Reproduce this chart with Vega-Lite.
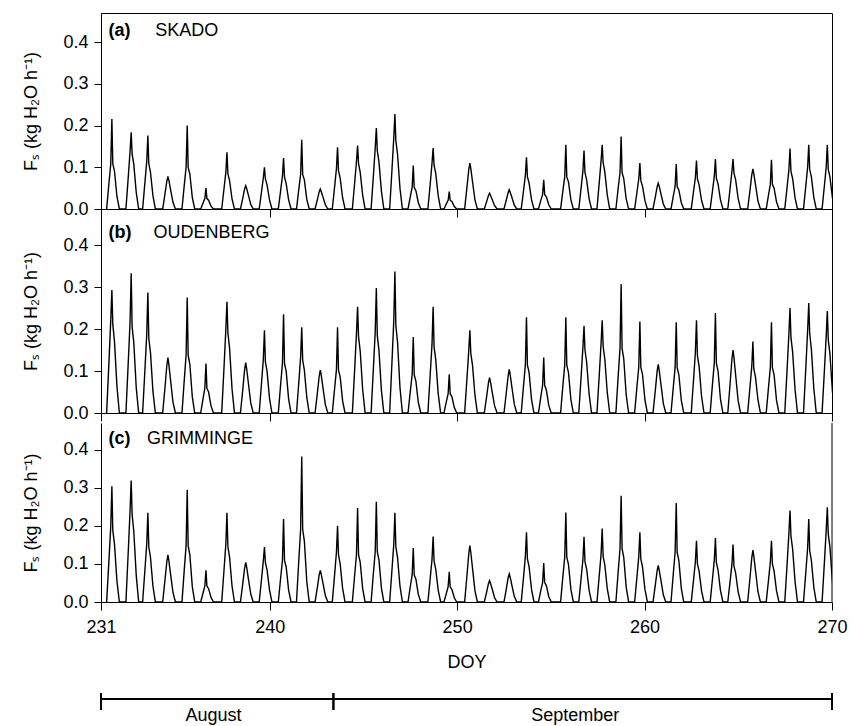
{
"$schema": "https://vega.github.io/schema/vega-lite/v6.json",
"padding": {"left": 22, "top": 12, "right": 5, "bottom": 0},
"autosize": {"type": "pad"},
"background": "white",
"bounds": "flush",
"spacing": 0,
"config": {
  "font": "Liberation Sans",
  "view": {"stroke": "black", "strokeWidth": 1},
  "axis": {"grid": false, "domainColor": "black", "tickColor": "black", "labelColor": "black", "titleColor": "black", "labelFont": "Liberation Sans", "titleFont": "Liberation Sans", "labelFontSize": 18, "titleFontSize": 18, "titleFontWeight": "normal", "tickSize": 7, "labelPadding": 6, "titlePadding": 22, "labelFlush": false, "domainWidth": 1, "tickWidth": 1},
  "text": {"font": "Liberation Sans"}
},
"datasets": {"fs": [
{"t":231.30,"a":0,"b":0,"c":0},{"t":231.42,"a":0.060,"b":0.117,"c":0.106},{"t":231.52,"a":0.108,"b":0.220,"c":0.198},{"t":231.58,"a":0.216,"b":0.293,"c":0.304},{"t":231.63,"a":0.108,"b":0.211,"c":0.188},{"t":231.72,"a":0.091,"b":0.170,"c":0.152},{"t":231.85,"a":0.030,"b":0.064,"c":0.055},{"t":231.98,"a":0,"b":0,"c":0},
{"t":232.33,"a":0,"b":0,"c":0},{"t":232.45,"a":0.074,"b":0.117,"c":0.128},{"t":232.55,"a":0.138,"b":0.216,"c":0.239},{"t":232.61,"a":0.184,"b":0.333,"c":0.319},{"t":232.66,"a":0.132,"b":0.206,"c":0.230},{"t":232.75,"a":0.107,"b":0.167,"c":0.185},{"t":232.88,"a":0.040,"b":0.060,"c":0.070},{"t":233.01,"a":0,"b":0,"c":0},
{"t":233.22,"a":0,"b":0,"c":0},{"t":233.34,"a":0.062,"b":0.100,"c":0.082},{"t":233.44,"a":0.114,"b":0.187,"c":0.152},{"t":233.50,"a":0.176,"b":0.287,"c":0.234},{"t":233.55,"a":0.109,"b":0.178,"c":0.145},{"t":233.64,"a":0.088,"b":0.144,"c":0.117},{"t":233.77,"a":0.032,"b":0.052,"c":0.042},{"t":233.90,"a":0,"b":0,"c":0},
{"t":234.29,"a":0,"b":0,"c":0},{"t":234.41,"a":0.035,"b":0.059,"c":0.056},{"t":234.51,"a":0.066,"b":0.112,"c":0.105},{"t":234.57,"a":0.078,"b":0.132,"c":0.124},{"t":234.62,"a":0.069,"b":0.116,"c":0.109},{"t":234.71,"a":0.047,"b":0.079,"c":0.074},{"t":234.84,"a":0.016,"b":0.026,"c":0.025},{"t":234.97,"a":0,"b":0,"c":0},
{"t":235.32,"a":0,"b":0,"c":0},{"t":235.44,"a":0.056,"b":0.077,"c":0.083},{"t":235.54,"a":0.100,"b":0.138,"c":0.148},{"t":235.60,"a":0.200,"b":0.275,"c":0.295},{"t":235.65,"a":0.100,"b":0.138,"c":0.148},{"t":235.74,"a":0.084,"b":0.116,"c":0.124},{"t":235.87,"a":0.028,"b":0.039,"c":0.041},{"t":236.00,"a":0,"b":0,"c":0},
{"t":236.32,"a":0,"b":0,"c":0},{"t":236.44,"a":0.014,"b":0.033,"c":0.023},{"t":236.54,"a":0.025,"b":0.059,"c":0.042},{"t":236.60,"a":0.050,"b":0.118,"c":0.083},{"t":236.65,"a":0.025,"b":0.059,"c":0.042},{"t":236.74,"a":0.021,"b":0.050,"c":0.035},{"t":236.87,"a":0.007,"b":0.017,"c":0.012},{"t":237.00,"a":0,"b":0,"c":0},
{"t":237.44,"a":0,"b":0,"c":0},{"t":237.56,"a":0.048,"b":0.106,"c":0.082},{"t":237.66,"a":0.088,"b":0.199,"c":0.152},{"t":237.72,"a":0.136,"b":0.265,"c":0.234},{"t":237.77,"a":0.084,"b":0.191,"c":0.145},{"t":237.86,"a":0.068,"b":0.154,"c":0.117},{"t":237.99,"a":0.024,"b":0.058,"c":0.042},{"t":238.12,"a":0,"b":0,"c":0},
{"t":238.44,"a":0,"b":0,"c":0},{"t":238.56,"a":0.025,"b":0.054,"c":0.047},{"t":238.66,"a":0.048,"b":0.102,"c":0.088},{"t":238.72,"a":0.056,"b":0.120,"c":0.104},{"t":238.77,"a":0.049,"b":0.106,"c":0.092},{"t":238.86,"a":0.034,"b":0.072,"c":0.062},{"t":238.99,"a":0.011,"b":0.024,"c":0.021},{"t":239.12,"a":0,"b":0,"c":0},
{"t":239.44,"a":0,"b":0,"c":0},{"t":239.56,"a":0.040,"b":0.069,"c":0.058},{"t":239.66,"a":0.075,"b":0.128,"c":0.108},{"t":239.72,"a":0.100,"b":0.197,"c":0.144},{"t":239.77,"a":0.072,"b":0.122,"c":0.104},{"t":239.86,"a":0.058,"b":0.099,"c":0.084},{"t":239.99,"a":0.022,"b":0.035,"c":0.032},{"t":240.12,"a":0,"b":0,"c":0},
{"t":240.46,"a":0,"b":0,"c":0},{"t":240.58,"a":0.043,"b":0.066,"c":0.061},{"t":240.68,"a":0.079,"b":0.118,"c":0.109},{"t":240.74,"a":0.122,"b":0.235,"c":0.218},{"t":240.79,"a":0.076,"b":0.118,"c":0.109},{"t":240.88,"a":0.061,"b":0.099,"c":0.092},{"t":241.01,"a":0.022,"b":0.033,"c":0.031},{"t":241.14,"a":0,"b":0,"c":0},
{"t":241.43,"a":0,"b":0,"c":0},{"t":241.55,"a":0.046,"b":0.071,"c":0.107},{"t":241.65,"a":0.083,"b":0.133,"c":0.191},{"t":241.71,"a":0.166,"b":0.204,"c":0.382},{"t":241.76,"a":0.083,"b":0.126,"c":0.191},{"t":241.85,"a":0.070,"b":0.102,"c":0.160},{"t":241.98,"a":0.023,"b":0.037,"c":0.053},{"t":242.11,"a":0,"b":0,"c":0},
{"t":242.42,"a":0,"b":0,"c":0},{"t":242.54,"a":0.022,"b":0.046,"c":0.037},{"t":242.64,"a":0.041,"b":0.087,"c":0.071},{"t":242.70,"a":0.048,"b":0.102,"c":0.083},{"t":242.75,"a":0.042,"b":0.090,"c":0.073},{"t":242.84,"a":0.029,"b":0.061,"c":0.050},{"t":242.97,"a":0.010,"b":0.020,"c":0.017},{"t":243.10,"a":0,"b":0,"c":0},
{"t":243.34,"a":0,"b":0,"c":0},{"t":243.46,"a":0.052,"b":0.057,"c":0.070},{"t":243.56,"a":0.096,"b":0.102,"c":0.130},{"t":243.62,"a":0.148,"b":0.204,"c":0.200},{"t":243.67,"a":0.092,"b":0.102,"c":0.124},{"t":243.76,"a":0.074,"b":0.086,"c":0.100},{"t":243.89,"a":0.027,"b":0.029,"c":0.036},{"t":244.02,"a":0,"b":0,"c":0},
{"t":244.41,"a":0,"b":0,"c":0},{"t":244.53,"a":0.061,"b":0.101,"c":0.069},{"t":244.63,"a":0.114,"b":0.190,"c":0.124},{"t":244.69,"a":0.152,"b":0.253,"c":0.247},{"t":244.74,"a":0.109,"b":0.182,"c":0.124},{"t":244.83,"a":0.088,"b":0.147,"c":0.104},{"t":244.96,"a":0.033,"b":0.056,"c":0.035},{"t":245.09,"a":0,"b":0,"c":0},
{"t":245.41,"a":0,"b":0,"c":0},{"t":245.53,"a":0.078,"b":0.104,"c":0.074},{"t":245.63,"a":0.146,"b":0.194,"c":0.132},{"t":245.69,"a":0.194,"b":0.298,"c":0.263},{"t":245.74,"a":0.140,"b":0.185,"c":0.132},{"t":245.83,"a":0.113,"b":0.149,"c":0.110},{"t":245.96,"a":0.043,"b":0.054,"c":0.037},{"t":246.09,"a":0,"b":0,"c":0},
{"t":246.40,"a":0,"b":0,"c":0},{"t":246.52,"a":0.091,"b":0.118,"c":0.082},{"t":246.62,"a":0.171,"b":0.219,"c":0.152},{"t":246.68,"a":0.228,"b":0.337,"c":0.234},{"t":246.73,"a":0.164,"b":0.209,"c":0.145},{"t":246.82,"a":0.132,"b":0.169,"c":0.117},{"t":246.95,"a":0.050,"b":0.061,"c":0.042},{"t":247.08,"a":0,"b":0,"c":0},
{"t":247.38,"a":0,"b":0,"c":0},{"t":247.50,"a":0.029,"b":0.051,"c":0.040},{"t":247.60,"a":0.052,"b":0.091,"c":0.071},{"t":247.66,"a":0.104,"b":0.181,"c":0.142},{"t":247.71,"a":0.052,"b":0.091,"c":0.071},{"t":247.80,"a":0.044,"b":0.076,"c":0.060},{"t":247.93,"a":0.015,"b":0.025,"c":0.020},{"t":248.06,"a":0,"b":0,"c":0},
{"t":248.44,"a":0,"b":0,"c":0},{"t":248.56,"a":0.058,"b":0.089,"c":0.060},{"t":248.66,"a":0.110,"b":0.164,"c":0.112},{"t":248.72,"a":0.146,"b":0.253,"c":0.172},{"t":248.77,"a":0.105,"b":0.157,"c":0.107},{"t":248.86,"a":0.085,"b":0.127,"c":0.086},{"t":248.99,"a":0.032,"b":0.046,"c":0.031},{"t":249.12,"a":0,"b":0,"c":0},
{"t":249.30,"a":0,"b":0,"c":0},{"t":249.42,"a":0.012,"b":0.026,"c":0.022},{"t":249.52,"a":0.021,"b":0.046,"c":0.040},{"t":249.58,"a":0.042,"b":0.092,"c":0.079},{"t":249.63,"a":0.021,"b":0.046,"c":0.040},{"t":249.72,"a":0.018,"b":0.039,"c":0.033},{"t":249.85,"a":0.006,"b":0.013,"c":0.011},{"t":249.98,"a":0,"b":0,"c":0},
{"t":250.40,"a":0,"b":0,"c":0},{"t":250.52,"a":0.050,"b":0.079,"c":0.067},{"t":250.62,"a":0.094,"b":0.148,"c":0.126},{"t":250.68,"a":0.110,"b":0.197,"c":0.148},{"t":250.73,"a":0.097,"b":0.142,"c":0.130},{"t":250.82,"a":0.066,"b":0.114,"c":0.089},{"t":250.95,"a":0.022,"b":0.043,"c":0.030},{"t":251.08,"a":0,"b":0,"c":0},
{"t":251.45,"a":0,"b":0,"c":0},{"t":251.57,"a":0.017,"b":0.038,"c":0.025},{"t":251.67,"a":0.032,"b":0.071,"c":0.048},{"t":251.73,"a":0.038,"b":0.084,"c":0.056},{"t":251.78,"a":0.033,"b":0.074,"c":0.049},{"t":251.87,"a":0.023,"b":0.050,"c":0.034},{"t":252.00,"a":0.008,"b":0.017,"c":0.011},{"t":252.13,"a":0,"b":0,"c":0},
{"t":252.50,"a":0,"b":0,"c":0},{"t":252.62,"a":0.021,"b":0.047,"c":0.033},{"t":252.72,"a":0.039,"b":0.088,"c":0.063},{"t":252.78,"a":0.046,"b":0.104,"c":0.074},{"t":252.83,"a":0.040,"b":0.092,"c":0.065},{"t":252.92,"a":0.028,"b":0.062,"c":0.044},{"t":253.05,"a":0.009,"b":0.021,"c":0.015},{"t":253.18,"a":0,"b":0,"c":0},
{"t":253.42,"a":0,"b":0,"c":0},{"t":253.54,"a":0.043,"b":0.064,"c":0.064},{"t":253.64,"a":0.081,"b":0.114,"c":0.119},{"t":253.70,"a":0.124,"b":0.228,"c":0.183},{"t":253.75,"a":0.077,"b":0.114,"c":0.113},{"t":253.84,"a":0.062,"b":0.096,"c":0.092},{"t":253.97,"a":0.022,"b":0.032,"c":0.033},{"t":254.10,"a":0,"b":0,"c":0},
{"t":254.34,"a":0,"b":0,"c":0},{"t":254.46,"a":0.020,"b":0.037,"c":0.029},{"t":254.56,"a":0.035,"b":0.066,"c":0.051},{"t":254.62,"a":0.070,"b":0.132,"c":0.102},{"t":254.67,"a":0.035,"b":0.066,"c":0.051},{"t":254.76,"a":0.029,"b":0.055,"c":0.043},{"t":254.89,"a":0.010,"b":0.018,"c":0.014},{"t":255.02,"a":0,"b":0,"c":0},
{"t":255.52,"a":0,"b":0,"c":0},{"t":255.64,"a":0.043,"b":0.064,"c":0.066},{"t":255.74,"a":0.077,"b":0.114,"c":0.118},{"t":255.80,"a":0.154,"b":0.228,"c":0.235},{"t":255.85,"a":0.077,"b":0.114,"c":0.118},{"t":255.94,"a":0.065,"b":0.096,"c":0.099},{"t":256.07,"a":0.022,"b":0.032,"c":0.033},{"t":256.20,"a":0,"b":0,"c":0},
{"t":256.49,"a":0,"b":0,"c":0},{"t":256.61,"a":0.049,"b":0.083,"c":0.060},{"t":256.71,"a":0.091,"b":0.156,"c":0.111},{"t":256.77,"a":0.140,"b":0.208,"c":0.171},{"t":256.82,"a":0.087,"b":0.150,"c":0.106},{"t":256.91,"a":0.070,"b":0.121,"c":0.086},{"t":257.04,"a":0.025,"b":0.046,"c":0.031},{"t":257.17,"a":0,"b":0,"c":0},
{"t":257.46,"a":0,"b":0,"c":0},{"t":257.58,"a":0.062,"b":0.088,"c":0.068},{"t":257.68,"a":0.116,"b":0.166,"c":0.125},{"t":257.74,"a":0.154,"b":0.221,"c":0.193},{"t":257.79,"a":0.111,"b":0.159,"c":0.120},{"t":257.88,"a":0.089,"b":0.128,"c":0.097},{"t":258.01,"a":0.034,"b":0.049,"c":0.035},{"t":258.14,"a":0,"b":0,"c":0},
{"t":258.47,"a":0,"b":0,"c":0},{"t":258.59,"a":0.049,"b":0.086,"c":0.078},{"t":258.69,"a":0.087,"b":0.154,"c":0.140},{"t":258.75,"a":0.174,"b":0.307,"c":0.279},{"t":258.80,"a":0.087,"b":0.154,"c":0.140},{"t":258.89,"a":0.073,"b":0.129,"c":0.117},{"t":259.02,"a":0.024,"b":0.043,"c":0.039},{"t":259.15,"a":0,"b":0,"c":0},
{"t":259.47,"a":0,"b":0,"c":0},{"t":259.59,"a":0.039,"b":0.061,"c":0.064},{"t":259.69,"a":0.072,"b":0.109,"c":0.119},{"t":259.75,"a":0.110,"b":0.218,"c":0.183},{"t":259.80,"a":0.068,"b":0.109,"c":0.113},{"t":259.89,"a":0.055,"b":0.092,"c":0.092},{"t":260.02,"a":0.020,"b":0.031,"c":0.033},{"t":260.15,"a":0,"b":0,"c":0},
{"t":260.45,"a":0,"b":0,"c":0},{"t":260.57,"a":0.028,"b":0.052,"c":0.043},{"t":260.67,"a":0.053,"b":0.099,"c":0.082},{"t":260.73,"a":0.062,"b":0.116,"c":0.096},{"t":260.78,"a":0.055,"b":0.102,"c":0.084},{"t":260.87,"a":0.037,"b":0.070,"c":0.058},{"t":261.00,"a":0.012,"b":0.023,"c":0.019},{"t":261.13,"a":0,"b":0,"c":0},
{"t":261.41,"a":0,"b":0,"c":0},{"t":261.53,"a":0.030,"b":0.060,"c":0.073},{"t":261.63,"a":0.054,"b":0.108,"c":0.130},{"t":261.69,"a":0.108,"b":0.216,"c":0.260},{"t":261.74,"a":0.054,"b":0.108,"c":0.130},{"t":261.83,"a":0.045,"b":0.091,"c":0.109},{"t":261.96,"a":0.015,"b":0.030,"c":0.036},{"t":262.09,"a":0,"b":0,"c":0},
{"t":262.49,"a":0,"b":0,"c":0},{"t":262.61,"a":0.041,"b":0.077,"c":0.056},{"t":262.71,"a":0.075,"b":0.144,"c":0.105},{"t":262.77,"a":0.116,"b":0.221,"c":0.161},{"t":262.82,"a":0.072,"b":0.137,"c":0.100},{"t":262.91,"a":0.058,"b":0.111,"c":0.081},{"t":263.04,"a":0.021,"b":0.040,"c":0.029},{"t":263.17,"a":0,"b":0,"c":0},
{"t":263.50,"a":0,"b":0,"c":0},{"t":263.62,"a":0.042,"b":0.067,"c":0.059},{"t":263.72,"a":0.078,"b":0.119,"c":0.109},{"t":263.78,"a":0.120,"b":0.238,"c":0.168},{"t":263.83,"a":0.074,"b":0.119,"c":0.104},{"t":263.92,"a":0.060,"b":0.100,"c":0.084},{"t":264.05,"a":0.022,"b":0.033,"c":0.030},{"t":264.18,"a":0,"b":0,"c":0},
{"t":264.44,"a":0,"b":0,"c":0},{"t":264.56,"a":0.048,"b":0.068,"c":0.053},{"t":264.66,"a":0.090,"b":0.128,"c":0.098},{"t":264.72,"a":0.120,"b":0.150,"c":0.151},{"t":264.77,"a":0.086,"b":0.132,"c":0.094},{"t":264.86,"a":0.070,"b":0.090,"c":0.076},{"t":264.99,"a":0.026,"b":0.030,"c":0.027},{"t":265.12,"a":0,"b":0,"c":0},
{"t":265.50,"a":0,"b":0,"c":0},{"t":265.62,"a":0.043,"b":0.060,"c":0.061},{"t":265.72,"a":0.082,"b":0.111,"c":0.116},{"t":265.78,"a":0.096,"b":0.170,"c":0.136},{"t":265.83,"a":0.084,"b":0.105,"c":0.120},{"t":265.92,"a":0.058,"b":0.085,"c":0.082},{"t":266.05,"a":0.019,"b":0.031,"c":0.027},{"t":266.18,"a":0,"b":0,"c":0},
{"t":266.49,"a":0,"b":0,"c":0},{"t":266.61,"a":0.033,"b":0.060,"c":0.056},{"t":266.71,"a":0.059,"b":0.108,"c":0.105},{"t":266.77,"a":0.118,"b":0.216,"c":0.161},{"t":266.82,"a":0.059,"b":0.108,"c":0.100},{"t":266.91,"a":0.050,"b":0.091,"c":0.081},{"t":267.04,"a":0.017,"b":0.030,"c":0.029},{"t":267.17,"a":0,"b":0,"c":0},
{"t":267.48,"a":0,"b":0,"c":0},{"t":267.60,"a":0.051,"b":0.100,"c":0.096},{"t":267.70,"a":0.094,"b":0.188,"c":0.180},{"t":267.76,"a":0.145,"b":0.250,"c":0.240},{"t":267.81,"a":0.090,"b":0.180,"c":0.173},{"t":267.90,"a":0.073,"b":0.145,"c":0.139},{"t":268.03,"a":0.026,"b":0.055,"c":0.053},{"t":268.16,"a":0,"b":0,"c":0},
{"t":268.48,"a":0,"b":0,"c":0},{"t":268.60,"a":0.054,"b":0.105,"c":0.076},{"t":268.70,"a":0.100,"b":0.197,"c":0.142},{"t":268.76,"a":0.154,"b":0.262,"c":0.218},{"t":268.81,"a":0.095,"b":0.189,"c":0.135},{"t":268.90,"a":0.077,"b":0.152,"c":0.109},{"t":269.03,"a":0.028,"b":0.058,"c":0.039},{"t":269.16,"a":0,"b":0,"c":0},
{"t":269.47,"a":0,"b":0,"c":0},{"t":269.59,"a":0.054,"b":0.097,"c":0.100},{"t":269.69,"a":0.100,"b":0.182,"c":0.187},{"t":269.75,"a":0.154,"b":0.243,"c":0.249},{"t":269.80,"a":0.095,"b":0.175,"c":0.179},{"t":269.89,"a":0.077,"b":0.141,"c":0.144},{"t":270.02,"a":0.028,"b":0.053,"c":0.055},{"t":270.15,"a":0,"b":0,"c":0}
]},
"vconcat": [
  {
    "width": 731, "height": 196,
    "layer": [
      {"data": {"name": "fs"},
       "mark": {"type": "line", "color": "black", "strokeWidth": 1.4, "clip": true},
       "encoding": {
         "x": {"field": "t", "type": "quantitative", "scale": {"domain": [231, 270], "nice": false, "zero": false}, "axis": {"values": [231, 240, 250, 260, 270], "labels": false, "title": null, "tickSize": 8}},
         "y": {"field": "a", "type": "quantitative", "scale": {"domain": [0, 0.47], "nice": false}, "axis": {"values": [0, 0.1, 0.2, 0.3, 0.4], "format": ".1f", "title": "Fₛ (kg H₂O h⁻¹)"}}
       }},
      {"data": {"values": [{"tag": "(a)", "site": "SKADO"}]},
       "mark": {"type": "text", "fontSize": 18, "fontWeight": "bold", "align": "left", "baseline": "middle", "color": "black"},
       "encoding": {"x": {"datum": 231.4}, "y": {"datum": 0.428}, "text": {"field": "tag"}}},
      {"data": {"values": [{"tag": "(a)", "site": "SKADO"}]},
       "mark": {"type": "text", "fontSize": 18, "align": "left", "baseline": "middle", "color": "black"},
       "encoding": {"x": {"datum": 233.9}, "y": {"datum": 0.428}, "text": {"field": "site"}}}
    ]
  },
  {
    "width": 731, "height": 204,
    "layer": [
      {"data": {"name": "fs"},
       "mark": {"type": "line", "color": "black", "strokeWidth": 1.4, "clip": true},
       "encoding": {
         "x": {"field": "t", "type": "quantitative", "scale": {"domain": [231, 270], "nice": false, "zero": false}, "axis": {"values": [231, 240, 250, 260, 270], "labels": false, "title": null, "tickSize": 8}},
         "y": {"field": "b", "type": "quantitative", "scale": {"domain": [0, 0.486], "nice": false}, "axis": {"values": [0, 0.1, 0.2, 0.3, 0.4], "format": ".1f", "title": "Fₛ (kg H₂O h⁻¹)"}}
       }},
      {"data": {"values": [{"tag": "(b)", "site": "OUDENBERG"}]},
       "mark": {"type": "text", "fontSize": 18, "fontWeight": "bold", "align": "left", "baseline": "middle", "color": "black"},
       "encoding": {"x": {"datum": 231.4}, "y": {"datum": 0.428}, "text": {"field": "tag"}}},
      {"data": {"values": [{"tag": "(b)", "site": "OUDENBERG"}]},
       "mark": {"type": "text", "fontSize": 18, "align": "left", "baseline": "middle", "color": "black"},
       "encoding": {"x": {"datum": 233.8}, "y": {"datum": 0.428}, "text": {"field": "site"}}}
    ]
  },
  {
    "width": 731, "height": 10,
    "view": {"stroke": null},
    "data": {"values": [{}]},
    "mark": {"type": "point", "opacity": 0}
  },
  {
    "width": 731, "height": 179,
    "view": {"stroke": null},
    "layer": [
      {"data": {"name": "fs"},
       "mark": {"type": "line", "color": "black", "strokeWidth": 1.4, "clip": true},
       "encoding": {
         "x": {"field": "t", "type": "quantitative", "scale": {"domain": [231, 270], "nice": false, "zero": false}, "axis": {"values": [231, 240, 250, 260, 270], "title": "DOY", "tickSize": 8, "labelPadding": 8, "titlePadding": 17, "titleFontSize": 18}},
         "y": {"field": "c", "type": "quantitative", "scale": {"domain": [0, 0.47], "nice": false}, "axis": {"values": [0, 0.1, 0.2, 0.3, 0.4], "format": ".1f", "title": "Fₛ (kg H₂O h⁻¹)"}}
       }},
      {"data": {"values": [{"edge": 270}]},
       "mark": {"type": "rule", "color": "black", "strokeWidth": 1},
       "encoding": {"x": {"field": "edge", "type": "quantitative"}}},
      {"data": {"values": [{"tag": "(c)", "site": "GRIMMINGE"}]},
       "mark": {"type": "text", "fontSize": 18, "fontWeight": "bold", "align": "left", "baseline": "middle", "color": "black"},
       "encoding": {"x": {"datum": 231.4}, "y": {"datum": 0.428}, "text": {"field": "tag"}}},
      {"data": {"values": [{"tag": "(c)", "site": "GRIMMINGE"}]},
       "mark": {"type": "text", "fontSize": 18, "align": "left", "baseline": "middle", "color": "black"},
       "encoding": {"x": {"datum": 233.45}, "y": {"datum": 0.428}, "text": {"field": "site"}}}
    ]
  },
  {
    "width": 731, "height": 125,
    "view": {"stroke": null},
    "data": {"values": [{"month": "August", "start": 231, "end": 243.4, "mid": 237.0}, {"month": "September", "start": 243.4, "end": 270, "mid": 256.3}]},
    "layer": [
      {"mark": {"type": "rule", "color": "black", "strokeWidth": 2},
       "encoding": {
         "x": {"field": "start", "type": "quantitative", "scale": {"domain": [231, 270], "nice": false, "zero": false}, "axis": null},
         "x2": {"field": "end"},
         "y": {"datum": 2.24, "type": "quantitative", "scale": {"domain": [0, 10], "nice": false}, "axis": null}}},
      {"mark": {"type": "rule", "color": "black", "strokeWidth": 2},
       "encoding": {
         "x": {"field": "start", "type": "quantitative", "axis": null},
         "y": {"datum": 2.72, "type": "quantitative", "axis": null},
         "y2": {"datum": 1.36}}},
      {"mark": {"type": "rule", "color": "black", "strokeWidth": 2},
       "encoding": {
         "x": {"field": "end", "type": "quantitative", "axis": null},
         "y": {"datum": 2.72, "type": "quantitative", "axis": null},
         "y2": {"datum": 1.36}}},
      {"mark": {"type": "text", "fontSize": 18, "align": "center", "baseline": "alphabetic", "color": "black"},
       "encoding": {
         "x": {"field": "mid", "type": "quantitative", "axis": null},
         "y": {"datum": 0.48, "type": "quantitative", "axis": null},
         "text": {"field": "month"}}}
    ]
  }
]
}
